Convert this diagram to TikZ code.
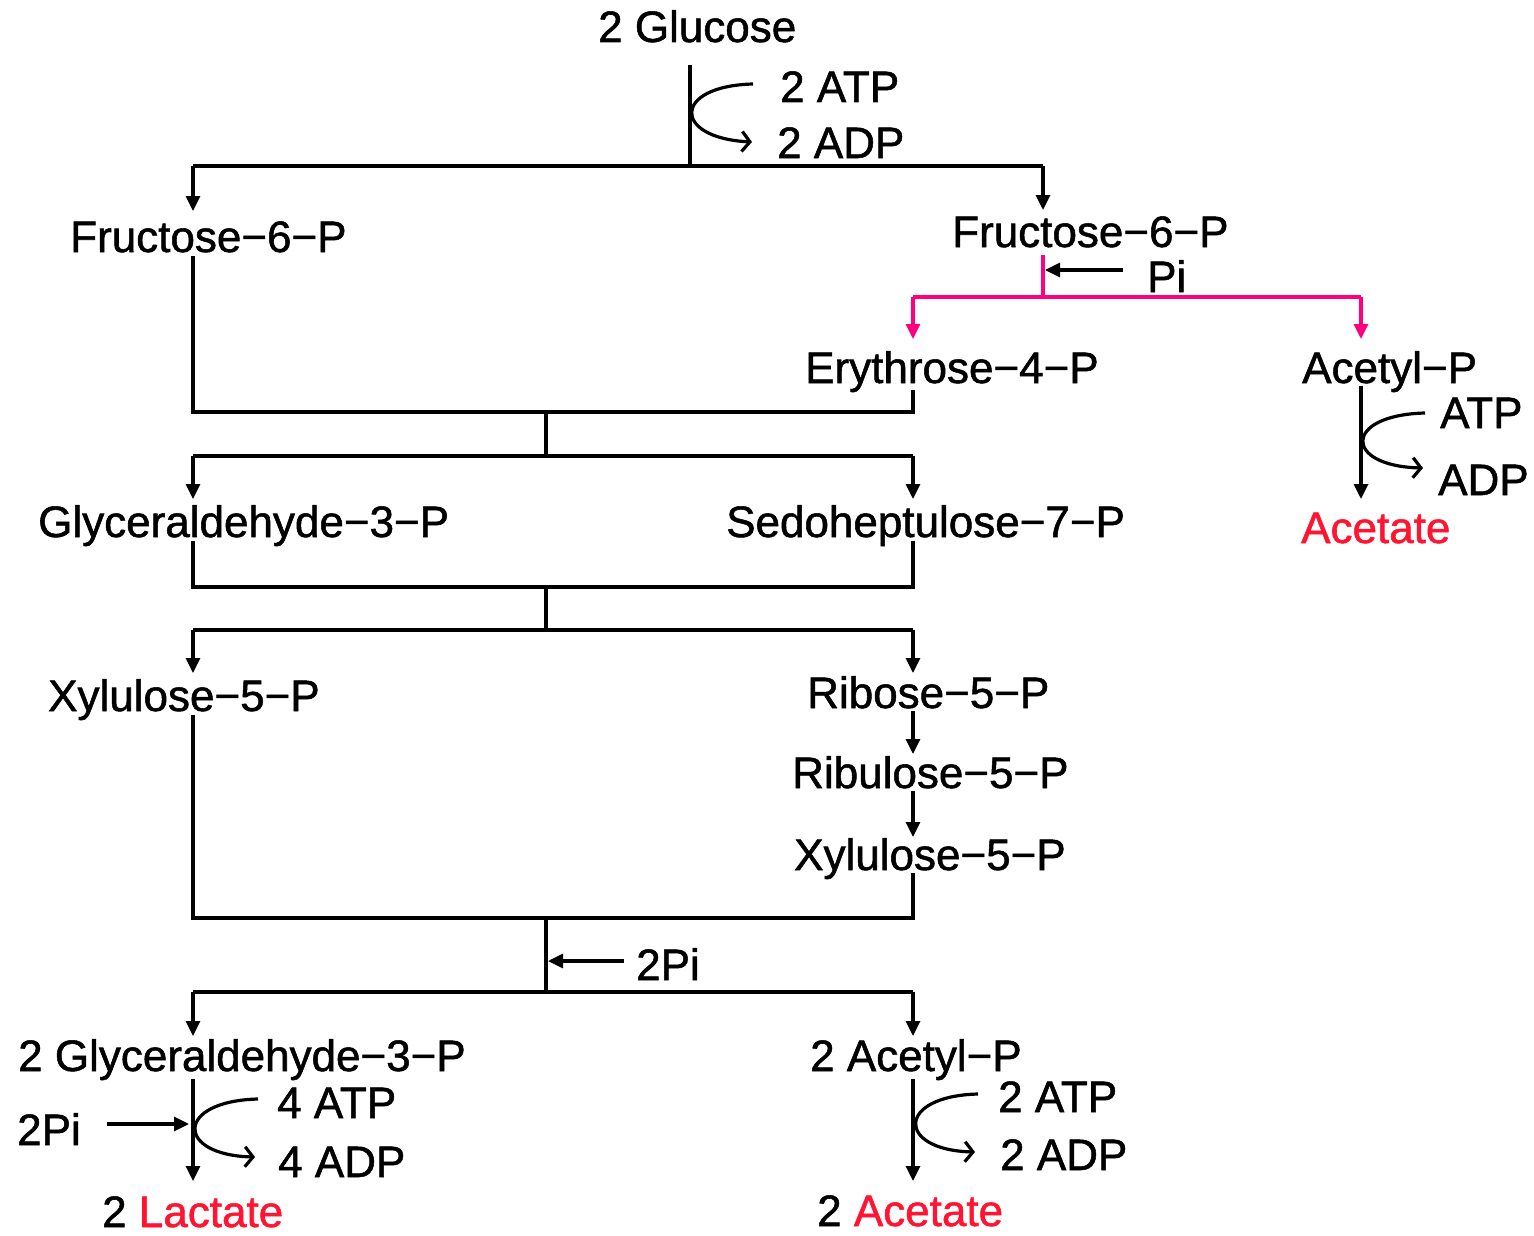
\documentclass[tikz,border=0pt]{standalone}
\usepackage{fontspec}
\setmainfont{Liberation Sans}[FakeBold=1.2]
\usetikzlibrary{arrows.meta}
\definecolor{prodred}{RGB}{255,20,50}
\definecolor{pkline}{RGB}{255,0,128}
\begin{document}
\begin{tikzpicture}[x=1pt,y=-1pt,
  lbl/.style={anchor=base west,inner sep=0pt,font=\fontsize{44}{52}\selectfont},
  ln/.style={line width=3.2pt},
  arr/.style={line width=3.2pt,-{Triangle[length=15pt,width=14pt]}},
  parr/.style={line width=3.2pt,draw=pkline,-{Triangle[length=15pt,width=14pt]}},
  curv/.style={line width=3.2pt,-{Straight Barb[length=8pt,width=20pt,line width=3.2pt]}}]
\useasboundingbox (0,0) rectangle (1534,1236);

% ---- text nodes
\node[lbl] (glc) at (598,42) {2 Glucose};
\node[lbl] (atp1) at (780,102) {2 ATP};
\node[lbl] (adp1) at (777,158) {2 ADP};
\node[lbl] (f6pL) at (70,252) {Fructose−6−P};
\node[lbl] (f6pR) at (952,247) {Fructose−6−P};
\node[lbl] (pi1) at (1147,292) {Pi};
\node[lbl] (e4p) at (805,383) {Erythrose−4−P};
\node[lbl] (acpR) at (1302,383) {Acetyl−P};
\node[lbl] (atp2) at (1440,428) {ATP};
\node[lbl] (adp2) at (1438,495) {ADP};
\node[lbl,text=prodred] (acR) at (1301,543) {Acetate};
\node[lbl] (g3p) at (38,537) {Glyceraldehyde−3−P};
\node[lbl] (s7p) at (726,537) {Sedoheptulose−7−P};
\node[lbl] (x5pL) at (48,711) {Xylulose−5−P};
\node[lbl] (r5p) at (807,708) {Ribose−5−P};
\node[lbl] (ru5p) at (792,788) {Ribulose−5−P};
\node[lbl] (x5pR) at (794,870) {Xylulose−5−P};
\node[lbl] (pi2) at (636,980) {2Pi};
\node[lbl] (g3p2) at (18,1071) {2 Glyceraldehyde−3−P};
\node[lbl] (acp2) at (810,1071) {2 Acetyl−P};
\node[lbl] (atp3) at (277,1118) {4 ATP};
\node[lbl] (pi3) at (17,1145) {2Pi};
\node[lbl] (adp3) at (278,1177) {4 ADP};
\node[lbl] (lac) at (102,1227) {2 \textcolor{prodred}{Lactate}};
\node[lbl] (atp4) at (998,1112) {2 ATP};
\node[lbl] (adp4) at (1000,1170) {2 ADP};
\node[lbl] (ac2) at (817,1226) {2 \textcolor{prodred}{Acetate}};

% ---- junction coordinates
\coordinate (a0) at (690,65);   \coordinate (a1) at (690,166);
\coordinate (a1L) at (193,166); \coordinate (a1R) at (1043,166);
\coordinate (a1Lt) at (193,211); \coordinate (a1Rt) at (1043,210);
\coordinate (c1s) at (753,84);  \coordinate (c1e) at (752,142);

\coordinate (p0) at (1043,255); \coordinate (p1) at (1043,297);
\coordinate (p1L) at (913,297); \coordinate (p1R) at (1361,297);
\coordinate (p1Lt) at (913,339); \coordinate (p1Rt) at (1361,339);
\coordinate (pi1s) at (1123,270); \coordinate (pi1e) at (1045,270);

\coordinate (ac0) at (1361,386); \coordinate (ac1) at (1361,499);
\coordinate (c2s) at (1425,413); \coordinate (c2e) at (1423,468);

\coordinate (b0L) at (193,256); \coordinate (b0R) at (913,390);
\coordinate (b1L) at (193,412); \coordinate (b1R) at (913,412);
\coordinate (b1) at (546,412);  \coordinate (b2) at (546,456);
\coordinate (b2L) at (193,456); \coordinate (b2R) at (913,456);
\coordinate (b2Lt) at (193,499); \coordinate (b2Rt) at (913,499);

\coordinate (d0L) at (193,541); \coordinate (d0R) at (913,541);
\coordinate (d1L) at (193,587); \coordinate (d1R) at (913,587);
\coordinate (d1) at (546,587);  \coordinate (d2) at (546,630);
\coordinate (d2L) at (193,630); \coordinate (d2R) at (913,630);
\coordinate (d2Lt) at (193,673); \coordinate (d2Rt) at (913,673);

\coordinate (r0) at (913,711); \coordinate (r1) at (913,754);
\coordinate (r2) at (913,791); \coordinate (r3) at (913,837);

\coordinate (e0L) at (193,715); \coordinate (e0R) at (913,873);
\coordinate (e1L) at (193,918); \coordinate (e1R) at (913,918);
\coordinate (e1) at (546,918);  \coordinate (e2) at (546,992);
\coordinate (e2L) at (193,992); \coordinate (e2R) at (913,992);
\coordinate (e2Lt) at (193,1036); \coordinate (e2Rt) at (913,1036);
\coordinate (pi2s) at (624,961); \coordinate (pi2e) at (548,961);

\coordinate (f0L) at (193,1079); \coordinate (f1L) at (193,1181);
\coordinate (pi3s) at (107,1124); \coordinate (pi3e) at (189,1124);
\coordinate (c3s) at (258,1099); \coordinate (c3e) at (255,1157);
\coordinate (f0R) at (913,1079); \coordinate (f1R) at (913,1181);
\coordinate (c4s) at (978,1094); \coordinate (c4e) at (975,1152);

% ---- top: glucose split
\draw[ln] (a0) -- (a1);
\draw[ln] (a1L) -- (a1R);
\draw[arr] (a1L) -- (a1Lt);
\draw[arr] (a1R) -- (a1Rt);
\draw[curv] (c1s) .. controls (672,86) and (672,138) .. (c1e);

% ---- phosphoketolase (pink)
\draw[ln,draw=pkline] (p0) -- (p1);
\draw[ln,draw=pkline] (p1L) -- (p1R);
\draw[parr] (p1L) -- (p1Lt);
\draw[parr] (p1R) -- (p1Rt);
\draw[arr] (pi1s) -- (pi1e);

% ---- acetyl-P to acetate
\draw[arr] (ac0) -- (ac1);
\draw[curv] (c2s) .. controls (1343,415) and (1343,466) .. (c2e);

% ---- transketolase / transaldolase steps
\draw[ln] (b0L) -- (b1L) -- (b1R) -- (b0R);
\draw[ln] (b1) -- (b2);
\draw[ln] (b2L) -- (b2R);
\draw[arr] (b2L) -- (b2Lt);
\draw[arr] (b2R) -- (b2Rt);

\draw[ln] (d0L) -- (d1L) -- (d1R) -- (d0R);
\draw[ln] (d1) -- (d2);
\draw[ln] (d2L) -- (d2R);
\draw[arr] (d2L) -- (d2Lt);
\draw[arr] (d2R) -- (d2Rt);

\draw[arr] (r0) -- (r1);
\draw[arr] (r2) -- (r3);

\draw[ln] (e0L) -- (e1L) -- (e1R) -- (e0R);
\draw[ln] (e1) -- (e2);
\draw[ln] (e2L) -- (e2R);
\draw[arr] (e2L) -- (e2Lt);
\draw[arr] (e2R) -- (e2Rt);
\draw[arr] (pi2s) -- (pi2e);

% ---- bottom
\draw[arr] (f0L) -- (f1L);
\draw[arr] (pi3s) -- (pi3e);
\draw[curv] (c3s) .. controls (175,1101) and (175,1155) .. (c3e);
\draw[arr] (f0R) -- (f1R);
\draw[curv] (c4s) .. controls (896,1096) and (896,1150) .. (c4e);
\end{tikzpicture}
\end{document}
